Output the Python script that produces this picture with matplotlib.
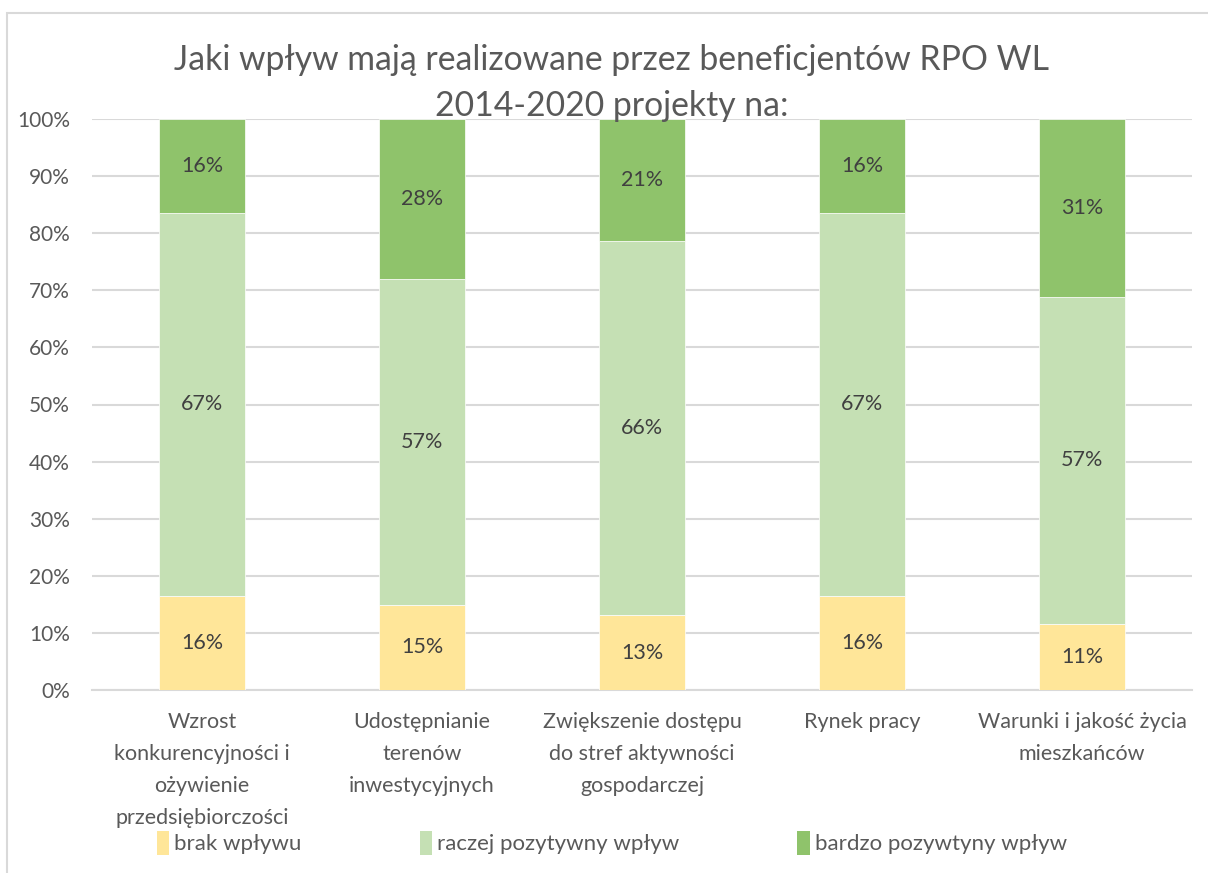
import matplotlib
matplotlib.use("Agg")
import matplotlib.pyplot as plt
from matplotlib.patches import Rectangle, Patch
import numpy as np

plt.rcParams['font.family'] = ['Lato', 'DejaVu Sans']

categories = [
    "Wzrost\nkonkurencyjności i\nożywienie\nprzedsiębiorczości",
    "Udostępnianie\nterenów\ninwestycyjnych",
    "Zwiększenie dostępu\ndo stref aktywności\ngospodarczej",
    "Rynek pracy",
    "Warunki i jakość życia\nmieszkańców",
]
series_names = ["brak wpływu", "raczej pozytywny wpływ", "bardzo pozywtyny wpływ"]
brak = [16.4, 14.9, 13.1, 16.4, 11.5]
raczej = [67.2, 57.1, 65.6, 67.2, 57.4]
bardzo = [16.4, 28.0, 21.3, 16.4, 31.1]
brak_lbl = ["16%", "15%", "13%", "16%", "11%"]
raczej_lbl = ["67%", "57%", "66%", "67%", "57%"]
bardzo_lbl = ["16%", "28%", "21%", "16%", "31%"]
colors = ["#FFE699", "#C5E0B4", "#8FC36B"]

W, H = 1208, 873
fig = plt.figure(figsize=(W / 100, H / 100), dpi=100)
fig.patches.append(Rectangle((7 / W, -0.1), 1.2, (H - 13) / H + 0.1, transform=fig.transFigure,
                             fill=False, edgecolor="#D9D9D9", linewidth=1.5))

ax = fig.add_axes([92 / W, (H - 690) / H, 1100 / W, 571 / H])
x = np.arange(len(categories))
bw = 0.395
b1 = ax.bar(x, brak, bw, color=colors[0], edgecolor="white", linewidth=0.5, zorder=3)
b2 = ax.bar(x, raczej, bw, bottom=brak, color=colors[1], edgecolor="white", linewidth=0.5, zorder=3)
bottom3 = np.array(brak) + np.array(raczej)
b3 = ax.bar(x, bardzo, bw, bottom=bottom3, color=colors[2], edgecolor="white", linewidth=0.5, zorder=3)
for bars, lbls in [(b1, brak_lbl), (b2, raczej_lbl), (b3, bardzo_lbl)]:
    ax.bar_label(bars, labels=lbls, label_type="center", fontsize=15.5, color="#404040")

ax.set_xlim(-0.5, len(categories) - 0.5)
ax.set_ylim(0, 100)
ax.set_yticks(np.arange(0, 101, 10))
ax.set_yticklabels([f"{v}%" for v in range(0, 101, 10)], fontsize=15, color="#595959")
ax.set_xticks(x)
ax.set_xticklabels(categories, fontsize=15.5, color="#595959", linespacing=1.75, va="top")
ax.tick_params(axis="both", length=0)
ax.tick_params(axis="x", pad=16)
ax.tick_params(axis="y", pad=16)
ax.grid(axis="y", color="#D9D9D9", linewidth=1.5, zorder=0)
for s in ["top", "right", "left"]:
    ax.spines[s].set_visible(False)
ax.spines["bottom"].set_color("#D9D9D9")
ax.spines["bottom"].set_linewidth(1.5)

fig.text(612 / W, 1 - 83 / H, "Jaki wpływ mają realizowane przez beneficjentów RPO WL\n2014-2020 projekty na:",
         ha="center", va="center", fontsize=24.3, color="#595959", linespacing=1.52)

handles = [Patch(facecolor=c, edgecolor="none") for c in colors]
fig.legend(handles, series_names, ncol=3, loc="center", bbox_to_anchor=(612 / W, 1 - 843 / H),
           frameon=False, fontsize=16, labelcolor="#595959", handlelength=0.55, handleheight=1.3,
           handletextpad=0.25, columnspacing=5.3)

fig.savefig("out.png", dpi=100)
